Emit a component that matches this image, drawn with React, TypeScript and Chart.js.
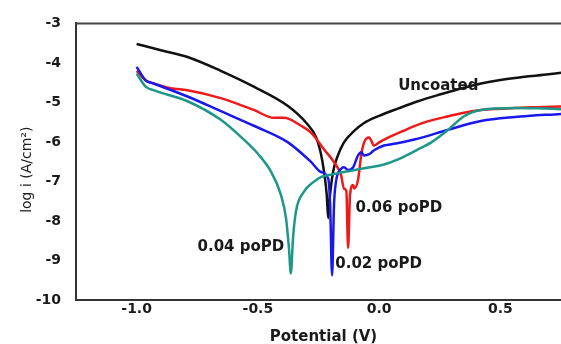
import React, { useEffect, useRef } from "react";
import { Chart, registerables } from "chart.js";

Chart.register(...registerables);

// ---- data (Potential in V, log i in A/cm²) ----
const uncoatedX = [-1.0, -0.9, -0.79, -0.653, -0.517, -0.376, -0.3, -0.26, -0.24, -0.227, -0.216, -0.21, -0.205, -0.19, -0.17, -0.145, -0.103, -0.062, 0.0, 0.08, 0.16, 0.25, 0.33, 0.42, 0.5, 0.6, 0.68, 0.75];
const uncoatedY = [-3.52, -3.68, -3.85, -4.2, -4.6, -5.09, -5.52, -5.88, -6.3, -6.76, -7.34, -7.93, -7.5, -6.76, -6.34, -6.01, -5.72, -5.52, -5.34, -5.15, -4.97, -4.8, -4.66, -4.52, -4.43, -4.35, -4.3, -4.25];

const pd02X = [-1.0, -0.963, -0.93, -0.79, -0.653, -0.517, -0.376, -0.28, -0.24, -0.21, -0.202, -0.194, -0.186, -0.178, -0.157, -0.145, -0.128, -0.107, -0.087, -0.074, -0.062, -0.041, -0.021, 0.02, 0.05, 0.145, 0.285, 0.42, 0.56, 0.75];
const pd02Y = [-4.1, -4.44, -4.52, -4.85, -5.22, -5.59, -6.01, -6.51, -6.76, -6.93, -7.59, -9.38, -7.59, -7.01, -6.68, -6.64, -6.71, -6.64, -6.34, -6.26, -6.34, -6.31, -6.21, -6.09, -6.06, -5.94, -5.69, -5.47, -5.37, -5.29];

const pd06X = [-1.0, -0.963, -0.93, -0.86, -0.79, -0.653, -0.517, -0.434, -0.393, -0.322, -0.28, -0.227, -0.186, -0.157, -0.145, -0.135, -0.128, -0.12, -0.107, -0.103, -0.087, -0.074, -0.062, -0.041, -0.021, 0.0, 0.037, 0.1, 0.145, 0.2, 0.285, 0.35, 0.42, 0.5, 0.56, 0.65, 0.75];
const pd06Y = [-4.2, -4.44, -4.52, -4.64, -4.69, -4.89, -5.19, -5.39, -5.39, -5.59, -5.77, -6.19, -6.51, -6.84, -7.18, -7.25, -8.68, -7.34, -7.09, -7.18, -6.96, -6.34, -6.01, -5.89, -6.09, -6.01, -5.89, -5.72, -5.6, -5.48, -5.35, -5.26, -5.19, -5.16, -5.14, -5.12, -5.1];

const pd04X = [-1.0, -0.963, -0.93, -0.79, -0.653, -0.558, -0.5, -0.446, -0.405, -0.384, -0.372, -0.364, -0.355, -0.343, -0.31, -0.27, -0.24, -0.21, -0.145, -0.074, 0.02, 0.078, 0.16, 0.215, 0.285, 0.35, 0.42, 0.56, 0.65, 0.75];
const pd04Y = [-4.27, -4.6, -4.69, -4.97, -5.44, -5.94, -6.3, -6.75, -7.34, -7.93, -8.68, -9.33, -8.43, -7.76, -7.26, -7.01, -6.89, -6.84, -6.76, -6.68, -6.57, -6.44, -6.19, -6.01, -5.69, -5.35, -5.19, -5.14, -5.15, -5.17];

const xTicks = [-1.0, -0.5, 0.0, 0.5];
const yTicks = [-3, -4, -5, -6, -7, -8, -9, -10];

const curveLabels = ["Uncoated", "0.06 poPD", "0.04 poPD", "0.02 poPD"];
const curveLabelX = [0.244, 0.081, -0.57, -0.002];
const curveLabelY = [-4.59, -7.68, -8.66, -9.08];

const xTitle = "Potential (V)";
const yTitle = "log i (A/cm\u00B2)";

const pts = (xs: number[], ys: number[]) => xs.map((x, i) => ({ x, y: ys[i] }));

const decor = {
  id: "decor",
  afterDraw(chart: any) {
    const { ctx, chartArea, scales } = chart;
    ctx.save();
    // top frame line
    ctx.strokeStyle = "#444";
    ctx.lineWidth = 2;
    ctx.beginPath();
    ctx.moveTo(chartArea.left - 1, chartArea.top);
    ctx.lineTo(chartArea.right, chartArea.top);
    ctx.stroke();
    // curve labels
    ctx.fillStyle = "#1a1a1a";
    ctx.font = 'bold 15px "DejaVu Sans"';
    ctx.textAlign = "center";
    ctx.textBaseline = "middle";
    curveLabels.forEach((t, i) => {
      ctx.fillText(t, scales.x.getPixelForValue(curveLabelX[i]), scales.y.getPixelForValue(curveLabelY[i]));
    });
    // axis titles
    ctx.fillText(xTitle, (chartArea.left + chartArea.right) / 2 + 5, 337);
    ctx.font = '14px "DejaVu Sans"';
    ctx.translate(27, (chartArea.top + chartArea.bottom) / 2 + 8);
    ctx.rotate(-Math.PI / 2);
    ctx.fillText(yTitle, 0, 0);
    ctx.restore();
  },
};

export default function App() {
  const ref = useRef<HTMLCanvasElement | null>(null);
  useEffect(() => {
    if (!ref.current) return;
    const mk = (label: string, xs: number[], ys: number[], color: string, w: number) => ({
      label,
      data: pts(xs, ys),
      borderColor: color,
      backgroundColor: color,
      borderWidth: w,
      pointRadius: 0,
      showLine: true,
      fill: false,
      cubicInterpolationMode: "monotone" as const,
    });
    const chart = new Chart(ref.current, {
      type: "scatter",
      data: {
        datasets: [
          mk("0.04 poPD", pd04X, pd04Y, "#1c978a", 2.5),
          mk("0.02 poPD", pd02X, pd02Y, "#1818ee", 2.5),
          mk("0.06 poPD", pd06X, pd06Y, "#f01818", 2.5),
          mk("Uncoated", uncoatedX, uncoatedY, "#111111", 2.5),
        ],
      },
      options: {
        animation: false,
        responsive: false,
        layout: { padding: { top: 19, left: 0, right: 0, bottom: 0 } },
        plugins: { legend: { display: false }, tooltip: { enabled: false } },
        scales: {
          x: {
            type: "linear",
            min: -1.25,
            max: 0.75,
            afterFit: (s: any) => { s.height = 44; },
            afterBuildTicks: (s: any) => { s.ticks = xTicks.map((v) => ({ value: v })); },
            grid: { display: true, color: "rgba(0,0,0,0)", drawTicks: false },
            border: { display: true, color: "#333", width: 2 },
            ticks: {
              padding: 1,
              color: "#1a1a1a",
              font: { family: "DejaVu Sans", weight: "bold", size: 14 },
              callback: (v: any) => Number(v).toFixed(1),
            },
          },
          y: {
            type: "linear",
            min: -10,
            max: -3,
            afterFit: (s: any) => { s.width = 76; },
            afterBuildTicks: (s: any) => { s.ticks = yTicks.map((v) => ({ value: v })); },
            grid: { display: true, color: "rgba(0,0,0,0)", drawTicks: false },
            border: { display: true, color: "#333", width: 2 },
            ticks: {
              padding: 15,
              color: "#1a1a1a",
              font: { family: "DejaVu Sans", weight: "bold", size: 14 },
              callback: (v: any) => String(v),
            },
          },
        },
      },
      plugins: [decor],
    });
    return () => chart.destroy();
  }, []);
  return (
    <div style={{ position: "absolute", left: 0, top: 0, width: 561, height: 344, background: "#fff" }}>
      <canvas ref={ref} width={561} height={344} style={{ display: "block" }} />
    </div>
  );
}
